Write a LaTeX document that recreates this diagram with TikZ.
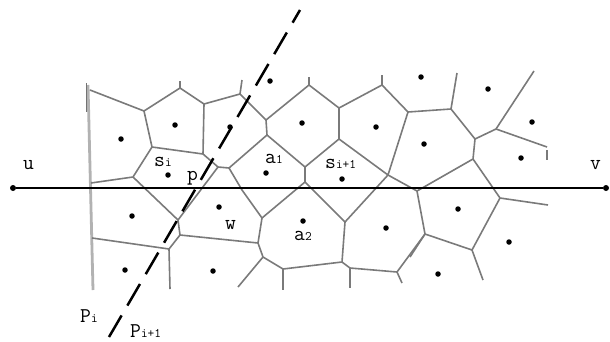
\documentclass[tikz,border=0pt]{standalone}
\tikzset{
  edge/.style={draw=black!52,line width=1.6pt,line join=round},
  thinedge/.style={draw=black!55,line width=0.7pt},
  wall/.style={draw=black!30,line width=2.8pt},
  seed/.style={circle,fill=black,inner sep=0pt,minimum size=5.5pt},
  endpt/.style={circle,fill=black,inner sep=0pt,minimum size=6pt},
  mainline/.style={draw=black,line width=1.7pt},
  cutline/.style={draw=black,line width=2.5pt,dash pattern=on 25pt off 11.4pt},
  lab/.style={inner sep=0pt,anchor=base west,font=\fontsize{21}{21}\selectfont\ttfamily},
}
\newcommand{\sbs}[1]{{\fontsize{13}{13}\selectfont #1}}
\begin{document}
\begin{tikzpicture}[x=1pt,y=-1pt]
\useasboundingbox (0,0) rectangle (610,341);
% vertices
\foreach \n/\x/\y in {
 wa/88/85, wb/93/290, wc/86/83, wd/86/112,
 a/90/90, b/144/111, c/180/88, cs/180/81, d/204/104, e/240/94, es/242/80,
 f/152/147, g/203/154, h/218/167, i/229/168, j/267/135, k/266/120,
 m/309/85, ms/309/77, n/339/108, o/339/139, p/305/167, q/305/182,
 r/382/85, rs/382/75, s/408/112, t/388/175, tt/451/109, ts/457/73,
 uu/475/139, vv/496/129, ww/534/71, xx/547/147, xr/547/150, xs/547/160,
 yy/473/159, zz/417/191, ab/500/198, ac/548/205, ad/472/250, ae/425/234,
 af/410/257, ag/483/280, ah/397/272, ai/402/283, aj/350/268, ak/350/288,
 al/342/262, am/345/222, an/262/218, ao/258/243, ap/263/257, aq/283/269,
 ar/283/290, as/238/287, at/242/190, av/180/235, aw/178/220, ax/169/249,
 ay/170/289, az/92/238, ba/133/177, bb/91/183}
 {\coordinate (\n) at (\x,\y);}
% walls and cells
\draw[wall] (wa) -- (wb);
\draw[thinedge] (wc) -- (wd);
\draw[edge] (a) -- (b) -- (c) -- (d) -- (e) -- (k) -- (m) -- (n) -- (r) -- (s) -- (tt) -- (uu) -- (vv) -- (ww);
\draw[edge] (c) -- (cs);
\draw[edge] (e) -- (es);
\draw[edge] (m) -- (ms);
\draw[edge] (r) -- (rs);
\draw[edge] (tt) -- (ts);
\draw[edge] (vv) -- (xx);
\draw[edge] (xr) -- (xs);
\draw[edge] (b) -- (f) -- (g) -- (d);
\draw[edge] (g) -- (h) -- (i) -- (j) -- (k);
\draw[edge] (h) -- (aw) -- (av) -- (ax) -- (az);
\draw[edge] (ax) -- (ay);
\draw[edge] (f) -- (ba) -- (bb);
\draw[edge] (ba) -- (aw);
\draw[edge] (av) -- (ao) -- (an) -- (at) -- (i);
\draw[edge] (j) -- (p) -- (q) -- (an);
\draw[edge] (p) -- (o) -- (n);
\draw[edge] (o) -- (t) -- (s);
\draw[edge] (t) -- (am) -- (q);
\draw[edge] (am) -- (al) -- (aq) -- (ap) -- (ao);
\draw[edge] (aq) -- (ar);
\draw[edge] (ap) -- (as);
\draw[edge] (al) -- (aj) -- (ah) -- (ae) -- (zz) -- (t);
\draw[edge] (aj) -- (ak);
\draw[edge] (ah) -- (ai);
\draw[edge] (zz) -- (yy) -- (uu);
\draw[edge] (yy) -- (ab) -- (ac);
\draw[edge] (ab) -- (ad) -- (ae) -- (af);
\draw[edge] (ad) -- (ag);
% seeds
\foreach \n/\x/\y in {s1/121/139,s2/175/125,s3/230/127,s4/168/175,s5/266/173,s6/270/81,
 s7/302/123,s8/376/127,s9/421/77,s10/424/144,s11/342/179,s12/488/89,s13/532/122,
 s14/521/158,s15/132/216,s16/219/207,s17/125/270,s18/213/271,s19/303/221,s20/386/228,
 s21/458/209,s22/509/242,s23/438/274}
 {\node[seed] (\n) at (\x,\y) {};}
% main lines
\node[endpt] (U) at (13,188) {};
\node[endpt] (V) at (606,188) {};
\draw[mainline] (U) -- (V);
\coordinate (cutA) at (109,337);
\coordinate (cutB) at (300,10);
\draw[cutline] (cutA) -- (cutB);
% labels
\node[lab] (lu) at (23,169) {u};
\node[lab] (lv) at (590,169) {v};
\node[lab] (lsi) at (154,166) {s\sbs{i}};
\node[lab] (lp) at (187,180) {p};
\node[lab] (la1) at (265,163) {a\sbs{1}};
\node[lab] (lsn) at (325,168) {s\sbs{i+1}};
\node[lab] (lw) at (225,229) {w};
\node[lab] (la2) at (294,240) {a\sbs{2}};
\node[lab] (lpi) at (80,322) {P\sbs{i}};
\node[lab] (lpn) at (130,337) {P\sbs{i+1}};
\end{tikzpicture}
\end{document}
